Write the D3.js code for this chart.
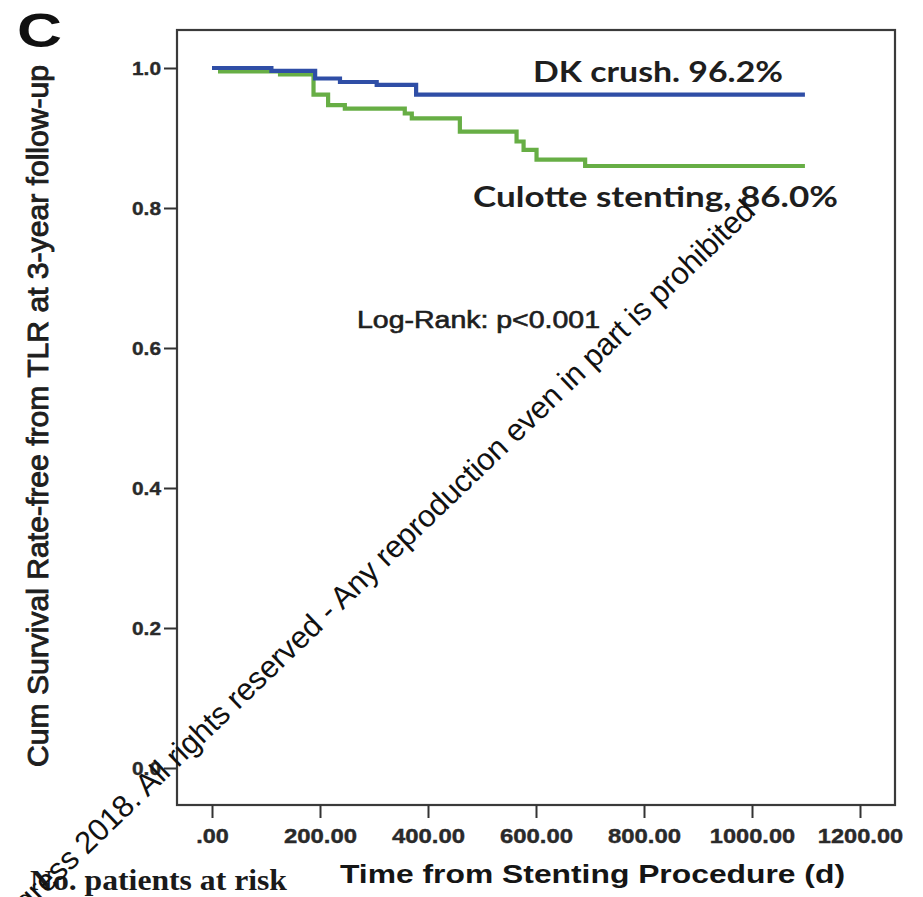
<!DOCTYPE html>
<html>
<head>
<meta charset="utf-8">
<script src="https://cdn.jsdelivr.net/npm/d3@7"></script>
<style>
  html, body { margin: 0; padding: 0; background: #fff; }
  svg { display: block; }
</style>
</head>
<body>
<svg id="chart" width="923" height="897"></svg>
<script>
// Kaplan-Meier estimates of freedom from TLR (days since stenting)
const dkTimes  = [0, 110, 191, 237, 305, 378, 1098];
const dkSurv   = [1.000, 0.996, 0.985, 0.980, 0.976, 0.962, 0.962];
const culTimes = [0, 15, 126, 188, 215, 246, 357, 370, 459, 564, 577, 601, 691, 1098];
const culSurv  = [1.000, 0.995, 0.991, 0.962, 0.947, 0.942, 0.935, 0.928, 0.909, 0.895, 0.883, 0.869, 0.860, 0.860];

const timeTicks      = [0, 200, 400, 600, 800, 1000, 1200];
const timeTickLabels = [".00", "200.00", "400.00", "600.00", "800.00", "1000.00", "1200.00"];
const survTicks      = [0, 0.2, 0.4, 0.6, 0.8, 1.0];
const survTickLabels = ["0.0", "0.2", "0.4", "0.6", "0.8", "1.0"];

const seriesNames  = ["DK crush. 96.2%", "Culotte stenting, 86.0%"];
const seriesColors = ["#2f4ea6", "#67ae45"];

const svg = d3.select("#chart");

// plotting frame
const frame = { left: 177, right: 895, top: 30, bottom: 805 };
const x = d3.scaleLinear().domain([0, 1200]).range([212, 860]);
const y = d3.scaleLinear().domain([0, 1]).range([768, 68]);

svg.append("rect")
  .attr("x", frame.left).attr("y", frame.top)
  .attr("width", frame.right - frame.left).attr("height", frame.bottom - frame.top)
  .attr("fill", "#fff").attr("stroke", "#3a3a3a").attr("stroke-width", 2.2);

// y axis ticks
const yAxis = d3.axisLeft(y).tickValues(survTicks).tickSize(13).tickPadding(3)
  .tickFormat((d, i) => survTickLabels[i]);
const gy = svg.append("g").attr("transform", `translate(${frame.left},0)`).call(yAxis);
gy.select(".domain").remove();
gy.selectAll(".tick line").attr("stroke", "#333").attr("stroke-width", 2);
gy.selectAll(".tick text")
  .attr("font-family", "Liberation Sans, Arial, sans-serif")
  .attr("font-weight", "bold").attr("font-size", 19).attr("fill", "#2a2a2a")
  .attr("stroke", "#2a2a2a").attr("stroke-width", 0.4)
  .attr("textLength", 29).attr("lengthAdjust", "spacingAndGlyphs")
  .attr("dy", "0.36em");

// x axis ticks
const xAxis = d3.axisBottom(x).tickValues(timeTicks).tickSize(13).tickPadding(10)
  .tickFormat((d, i) => timeTickLabels[i]);
const gx = svg.append("g").attr("transform", `translate(0,${frame.bottom})`).call(xAxis);
gx.select(".domain").remove();
gx.selectAll(".tick line").attr("stroke", "#333").attr("stroke-width", 2);
gx.selectAll(".tick text")
  .attr("font-family", "Liberation Sans, Arial, sans-serif")
  .attr("font-weight", "bold").attr("font-size", 21).attr("fill", "#2a2a2a")
  .attr("stroke", "#2a2a2a").attr("stroke-width", 0.4)
  .attr("textLength", (d, i) => timeTickLabels[i].length * 12.2 - (timeTickLabels[i].startsWith(".") ? 4 : 0))
  .attr("lengthAdjust", "spacingAndGlyphs");

// survival step curves
const line = d3.line()
  .x(d => x(d[0]))
  .y(d => y(d[1]))
  .curve(d3.curveStepAfter);

const series = [
  d3.zip(culTimes, culSurv),
  d3.zip(dkTimes, dkSurv)
];
const colors = [seriesColors[1], seriesColors[0]];
svg.append("g").selectAll("path")
  .data(series)
  .join("path")
  .attr("d", line)
  .attr("fill", "none")
  .attr("stroke", (d, i) => colors[i])
  .attr("stroke-width", 4.2);

// curve annotations
svg.append("text")
  .attr("x", 533).attr("y", 82)
  .attr("font-family", "Lato, 'Open Sans', sans-serif").attr("font-weight", "bold")
  .attr("font-size", 28).attr("fill", "#1e1e1e")
  .attr("textLength", 250).attr("lengthAdjust", "spacingAndGlyphs")
  .text(seriesNames[0]);

svg.append("text")
  .attr("x", 473).attr("y", 207)
  .attr("font-family", "Lato, 'Open Sans', sans-serif").attr("font-weight", "bold")
  .attr("font-size", 29).attr("fill", "#1e1e1e")
  .attr("textLength", 365).attr("lengthAdjust", "spacingAndGlyphs")
  .text(seriesNames[1]);

svg.append("text")
  .attr("x", 357).attr("y", 328)
  .attr("font-family", "Liberation Sans, Arial, sans-serif")
  .attr("font-size", 23).attr("fill", "#1e1e1e")
  .attr("stroke", "#1e1e1e").attr("stroke-width", 0.6)
  .attr("textLength", 243).attr("lengthAdjust", "spacingAndGlyphs")
  .text("Log-Rank: p<0.001");

// panel letter
svg.append("text")
  .attr("x", 17).attr("y", 47)
  .attr("font-family", "Liberation Sans, Arial, sans-serif").attr("font-weight", "bold")
  .attr("font-size", 49).attr("fill", "#111")
  .attr("textLength", 45).attr("lengthAdjust", "spacingAndGlyphs")
  .text("C");

// axis titles
svg.append("text")
  .attr("transform", "translate(48,416) rotate(-90)")
  .attr("text-anchor", "middle")
  .attr("font-family", "Liberation Sans, Arial, sans-serif")
  .attr("font-size", 29).attr("fill", "#1e1e1e")
  .attr("stroke", "#1e1e1e").attr("stroke-width", 0.9)
  .attr("textLength", 702).attr("lengthAdjust", "spacingAndGlyphs")
  .text("Cum Survival Rate-free from TLR at 3-year follow-up");

svg.append("text")
  .attr("x", 340).attr("y", 883)
  .attr("font-family", "Liberation Sans, Arial, sans-serif").attr("font-weight", "bold")
  .attr("font-size", 25).attr("fill", "#151515")
  .attr("textLength", 505).attr("lengthAdjust", "spacingAndGlyphs")
  .text("Time from Stenting Procedure (d)");

svg.append("text")
  .attr("x", 30).attr("y", 890)
  .attr("font-family", "Liberation Serif, 'Times New Roman', serif").attr("font-weight", "bold")
  .attr("font-size", 29).attr("fill", "#1a1a1a")
  .attr("textLength", 257).attr("lengthAdjust", "spacingAndGlyphs")
  .text("No. patients at risk");

// diagonal copyright notice
svg.append("text")
  .attr("transform", "translate(757,213) rotate(-43.8)")
  .attr("text-anchor", "end")
  .attr("font-family", "Liberation Sans, Arial, sans-serif")
  .attr("font-size", 31).attr("fill", "#111")
  .attr("textLength", 1068).attr("lengthAdjust", "spacing")
  .text("Congress 2018. All rights reserved - Any reproduction even in part is prohibited");
</script>
</body>
</html>
